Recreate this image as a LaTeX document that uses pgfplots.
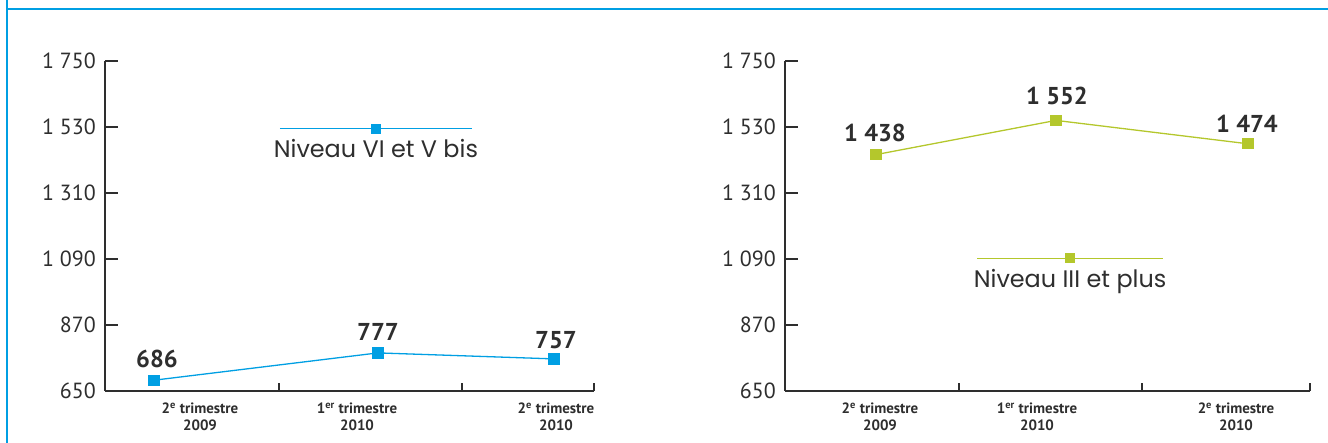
\documentclass[border=0pt]{standalone}
\usepackage{pgfplots}
\pgfplotsset{compat=1.18}
\usepackage{fontspec}
\setmainfont{PT Sans}
\newfontfamily\legfont{Poppins}
\definecolor{cblue}{HTML}{009FE3}
\definecolor{cgreen}{HTML}{B4C72C}
\definecolor{ctext}{HTML}{2E2E2E}
\newcommand\legsample[2]{\makebox[#2]{\color{#1}\rlap{\rule[3.3bp]{#2}{1.4bp}}\hfill\raisebox{-1bp}{\rule{10bp}{10bp}}\hfill}}
\tikzset{dlabel/.style={font=\bfseries\fontsize{24.5}{28}\selectfont, text=ctext, anchor=center}}
\pgfplotsset{
  panel/.style={
    scale only axis, width=#1bp, height=330bp,
    xmin=0, xmax=#1, ymin=650, ymax=1750,
    axis x line=bottom, axis y line=left,
    axis line style={-, line width=1.3bp, draw=ctext},
    tick align=inside, major tick length=13bp,
    tick style={line width=1.3bp, draw=ctext},
    ytick={650,870,1090,1310,1530,1750},
    yticklabels={650,870,1 090,1 310,1 530,1 750},
    yticklabel style={font=\fontsize{22}{24}\selectfont, text=ctext, inner sep=0pt, anchor=east, xshift=-9bp},
    xtick={174,357,#1},
    xticklabels={},
    xtick style={/pgfplots/major tick length=8bp},
    extra x ticks={95,252,451},
    extra x tick labels={{2\textsuperscript{e} trimestre\\2009},{1\textsuperscript{er} trimestre\\2010},{2\textsuperscript{e} trimestre\\2010}},
    extra x tick style={tick style={draw=none}},
    xticklabel style={font=\bfseries\fontsize{15}{17}\selectfont, text=ctext, align=center, inner sep=0pt, anchor=north, yshift=-12bp},
    clip=false,
    legend image code/.code={},
    legend style={draw=none, fill=none, inner sep=0pt, column sep=0pt, nodes={inner sep=0pt}, anchor=center},
  },
}
\begin{document}
\begin{tikzpicture}
\path[use as bounding box] (0,0) rectangle (1328bp,443bp);
\draw[cblue, line width=1.4bp] (7bp,0) -- (7bp,443bp);
\draw[cblue, line width=1.4bp] (7bp,434bp) -- (1328bp,434bp);
\begin{axis}[panel=489, at={(105bp,52bp)}, anchor=south west,
  legend style={at={(0.554,0.776)}}]
\addplot[cblue, line width=1.3bp, mark=square*, mark size=5bp] coordinates {(49,686) (273,777) (449,757)};
\addlegendentry{\begin{tabular}{@{}c@{}}\legsample{cblue}{192bp}\\[3bp]\color{ctext}\legfont\fontsize{24}{28}\selectfont Niveau VI et V bis\end{tabular}}
\node[dlabel] at (axis cs:52,686) [yshift=21bp] {686};
\node[dlabel] at (axis cs:273,777) [yshift=21bp] {777};
\node[dlabel] at (axis cs:451,757) [yshift=19bp] {757};
\end{axis}
\begin{axis}[panel=525, at={(785bp,52bp)}, anchor=south west,
  legend style={at={(0.543,0.381)}}]
\addplot[cgreen, line width=1.3bp, mark=square*, mark size=5bp] coordinates {(91,1438) (271,1552) (463,1474)};
\addlegendentry{\begin{tabular}{@{}c@{}}\legsample{cgreen}{186bp}\\[3bp]\color{ctext}\legfont\fontsize{24}{28}\selectfont Niveau III et plus\end{tabular}}
\node[dlabel] at (axis cs:90,1438) [yshift=22bp] {1 438};
\node[dlabel] at (axis cs:272,1552) [yshift=24bp] {1 552};
\node[dlabel] at (axis cs:462,1474) [yshift=20bp] {1 474};
\end{axis}
\end{tikzpicture}
\end{document}
